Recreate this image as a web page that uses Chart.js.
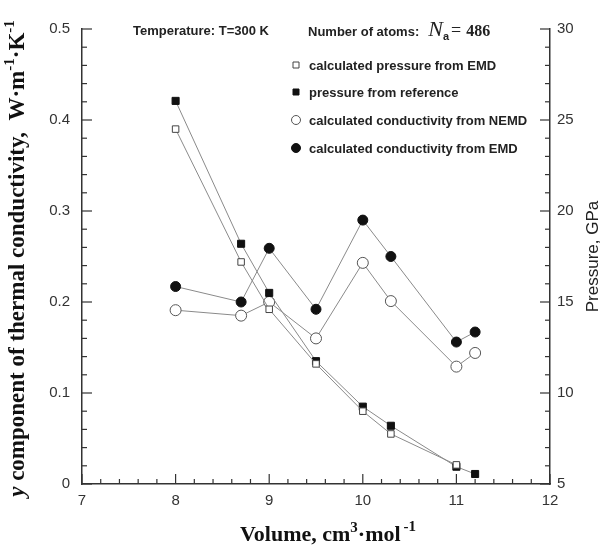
<!DOCTYPE html>
<html>
<head>
<meta charset="utf-8">
<script src="https://cdn.jsdelivr.net/npm/chart.js@4.4.1/dist/chart.umd.min.js"></script>
<style>
  body { margin: 0; background: #fff; }
  #wrap { width: 612px; height: 550px; }
</style>
</head>
<body>
<div id="wrap"><canvas id="myChart" width="612" height="550"></canvas></div>
<script>
// volumes (cm3/mol)
const volume = [8, 8.7, 9, 9.5, 10, 10.3, 11, 11.2];
const volumeEMDpress = [8, 8.7, 9, 9.5, 10, 10.3, 11];

// pressure, GPa (right axis)
const pressureEMD = [24.5, 17.2, 14.6, 11.6, 9.0, 7.75, 6.05];
const pressureRef = [26.05, 18.2, 15.5, 11.75, 9.25, 8.2, 5.95, 5.55];

// conductivity, W/m/K (left axis)
const condNEMD = [0.191, 0.185, 0.200, 0.160, 0.243, 0.201, 0.129, 0.144];
const condEMD = [0.217, 0.200, 0.259, 0.192, 0.290, 0.250, 0.156, 0.167];

const xTicks = [7, 8, 9, 10, 11, 12];
const condTicks = [0, 0.1, 0.2, 0.3, 0.4, 0.5];
const pressTicks = [5, 10, 15, 20, 25, 30];

const seriesLabels = [
    "calculated pressure from EMD",
    "pressure from reference",
    "calculated conductivity from NEMD",
    "calculated conductivity from EMD"
];

const axisColor = "#333";
const lineColor = "#8a8a8a";
const tickFont = { family: "'Liberation Sans', Arial, sans-serif", size: 15 };

function toPoints(xs, ys) {
    return ys.map((y, i) => ({ x: xs[i], y: y }));
}

// major + minor ticks pointing inward, like the original figure
const inwardTicks = {
    id: "inwardTicks",
    afterDraw(chart) {
        const ctx = chart.ctx;
        const area = chart.chartArea;
        ctx.save();
        ctx.strokeStyle = axisColor;
        ctx.lineWidth = 1.2;

        function run(scale, ticks, minorCount, side) {
            const first = ticks[0], last = ticks[ticks.length - 1];
            const step = (ticks[1] - ticks[0]) / (minorCount + 1);
            const n = Math.round((last - first) / step);
            for (let i = 0; i <= n; i++) {
                const v = first + i * step;
                const len = (i % (minorCount + 1) === 0) ? 10 : 5;
                const p = scale.getPixelForValue(v);
                ctx.beginPath();
                if (side === "bottom") {
                    ctx.moveTo(p, area.bottom);
                    ctx.lineTo(p, area.bottom - len);
                } else if (side === "left") {
                    ctx.moveTo(area.left, p);
                    ctx.lineTo(area.left + len, p);
                } else {
                    ctx.moveTo(area.right, p);
                    ctx.lineTo(area.right - len, p);
                }
                ctx.stroke();
            }
        }
        run(chart.scales.x, xTicks, 4, "bottom");
        run(chart.scales.y, condTicks, 4, "left");
        run(chart.scales.y2, pressTicks, 4, "right");
        ctx.restore();
    }
};

// draw a line of mixed-font text, runs = [{t, f, dy}]
function drawRuns(ctx, runs, x, y, align) {
    let total = 0;
    runs.forEach(r => { ctx.font = r.f; total += ctx.measureText(r.t).width + (r.gap || 0); });
    let cx = align === "center" ? x - total / 2 : x;
    runs.forEach(r => {
        ctx.font = r.f;
        ctx.fillText(r.t, cx, y + (r.dy || 0));
        cx += ctx.measureText(r.t).width + (r.gap || 0);
    });
}

const textDeco = {
    id: "textDeco",
    afterDraw(chart) {
        const ctx = chart.ctx;
        const area = chart.chartArea;
        ctx.save();
        ctx.fillStyle = "#222";
        ctx.textBaseline = "alphabetic";
        ctx.textAlign = "left";

        // header notes
        const sans = "'Liberation Sans', Arial, sans-serif";
        const serif = "'Liberation Serif', 'Times New Roman', serif";
        ctx.font = "bold 13px " + sans;
        ctx.fillText("Temperature: T=300 K", 133, 35);
        drawRuns(ctx, [
            { t: "Number of atoms:", f: "bold 13px " + sans, gap: 9 },
            { t: "N", f: "italic 22px " + serif },
            { t: "a", f: "bold 11px " + sans, dy: 4, gap: 2 },
            { t: "=", f: "18px " + serif, gap: 5 },
            { t: "486", f: "bold 16px " + serif }
        ], 308, 36, "left");

        // legend
        const ds = chart.data.datasets;
        const legendX = 296;
        const rows = [65, 92, 120, 148];
        ds.forEach((d, i) => {
            const y = rows[i];
            ctx.fillStyle = d.pointBackgroundColor;
            ctx.strokeStyle = d.pointBorderColor;
            ctx.lineWidth = 1;
            ctx.beginPath();
            if (d.pointStyle === "rect") {
                ctx.rect(legendX - 3, y - 3, 6, 6);
            } else {
                ctx.arc(legendX, y, 4.5, 0, Math.PI * 2);
            }
            ctx.fill();
            ctx.stroke();
            ctx.fillStyle = "#222";
            ctx.font = "bold 13px " + sans;
            ctx.fillText(d.label, legendX + 13, y + 5);
        });

        // axis titles
        ctx.fillStyle = "#111";
        ctx.save();
        ctx.translate(24, (area.top + area.bottom) / 2 + 2);
        ctx.rotate(-Math.PI / 2);
        drawRuns(ctx, [
            { t: "y", f: "italic bold 23px " + serif },
            { t: " component of thermal conductivity,  W\u00b7m", f: "bold 23px " + serif },
            { t: "-1", f: "bold 15px " + serif, dy: -10 },
            { t: "\u00b7K", f: "bold 23px " + serif },
            { t: "-1", f: "bold 15px " + serif, dy: -10 }
        ], 0, 0, "center");
        ctx.restore();

        drawRuns(ctx, [
            { t: "Volume, cm", f: "bold 22px " + serif },
            { t: "3", f: "bold 15px " + serif, dy: -9 },
            { t: "\u00b7mol", f: "bold 22px " + serif, gap: 3 },
            { t: "-1", f: "bold 15px " + serif, dy: -10 }
        ], 328, 541, "center");

        ctx.save();
        ctx.fillStyle = "#222";
        ctx.translate(598, (area.top + area.bottom) / 2);
        ctx.rotate(-Math.PI / 2);
        ctx.textAlign = "center";
        ctx.font = "17px " + sans;
        ctx.fillText("Pressure, GPa", 0, 0);
        ctx.restore();

        ctx.restore();
    }
};

const ctx = document.getElementById("myChart").getContext("2d");

const myChart = new Chart(ctx, {
    type: "scatter",
    data: {
        datasets: [
            {
                label: seriesLabels[0],
                data: toPoints(volumeEMDpress, pressureEMD),
                yAxisID: "y2",
                showLine: true,
                borderColor: lineColor,
                borderWidth: 1,
                pointStyle: "rect",
                pointRadius: 4.6,
                pointBackgroundColor: "#fff",
                pointBorderColor: "#444",
                pointBorderWidth: 1
            },
            {
                label: seriesLabels[1],
                data: toPoints(volume, pressureRef),
                yAxisID: "y2",
                showLine: true,
                borderColor: lineColor,
                borderWidth: 1,
                pointStyle: "rect",
                pointRadius: 5,
                pointBackgroundColor: "#111",
                pointBorderColor: "#111",
                pointBorderWidth: 1
            },
            {
                label: seriesLabels[2],
                data: toPoints(volume, condNEMD),
                yAxisID: "y",
                showLine: true,
                borderColor: lineColor,
                borderWidth: 1,
                pointStyle: "circle",
                pointRadius: 5.5,
                pointBackgroundColor: "#fff",
                pointBorderColor: "#555",
                pointBorderWidth: 1
            },
            {
                label: seriesLabels[3],
                data: toPoints(volume, condEMD),
                yAxisID: "y",
                showLine: true,
                borderColor: lineColor,
                borderWidth: 1,
                pointStyle: "circle",
                pointRadius: 5,
                pointBackgroundColor: "#111",
                pointBorderColor: "#111",
                pointBorderWidth: 1
            }
        ]
    },
    options: {
        responsive: false,
        animation: false,
        layout: { padding: { top: 29, left: 0, right: 0, bottom: 0 } },
        plugins: {
            legend: { display: false },
            tooltip: { enabled: false }
        },
        scales: {
            x: {
                type: "linear",
                position: "bottom",
                min: xTicks[0],
                max: xTicks[xTicks.length - 1],
                afterBuildTicks: s => { s.ticks = xTicks.map(v => ({ value: v })); },
                afterFit: s => { s.height = 66; },
                grid: { display: false, drawTicks: false },
                border: { display: true, color: axisColor, width: 1.5 },
                ticks: { font: tickFont, color: "#333", padding: 8 }
            },
            y: {
                type: "linear",
                position: "left",
                min: condTicks[0],
                max: condTicks[condTicks.length - 1],
                afterBuildTicks: s => { s.ticks = condTicks.map(v => ({ value: v })); },
                afterFit: s => { s.width = 82; },
                grid: { display: false, drawTicks: false },
                border: { display: true, color: axisColor, width: 1.5 },
                ticks: { font: tickFont, color: "#333", padding: 12 }
            },
            y2: {
                type: "linear",
                position: "right",
                min: pressTicks[0],
                max: pressTicks[pressTicks.length - 1],
                afterBuildTicks: s => { s.ticks = pressTicks.map(v => ({ value: v })); },
                afterFit: s => { s.width = 62; },
                grid: { display: false, drawTicks: false },
                border: { display: true, color: axisColor, width: 1.5 },
                ticks: { font: tickFont, color: "#333", padding: 7 }
            }
        }
    },
    plugins: [inwardTicks, textDeco]
});
</script>
</body>
</html>
